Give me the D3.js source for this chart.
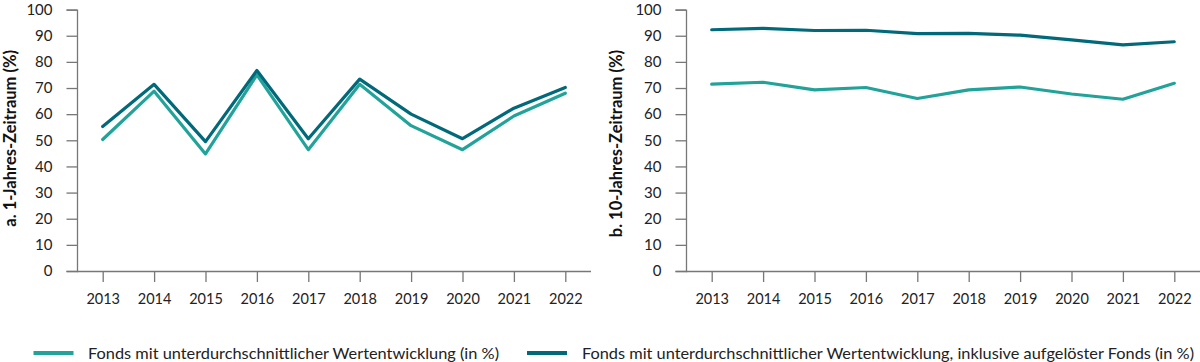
<!DOCTYPE html>
<html>
<head>
<meta charset="utf-8">
<script src="https://cdn.jsdelivr.net/npm/d3@7"></script>
<style>
  html, body { margin: 0; padding: 0; background: #fff; }
  svg { display: block; font-family: Lato, "Open Sans", sans-serif; }
</style>
</head>
<body>
<svg id="chart" width="1200" height="362"></svg>
<script>
const years = ["2013","2014","2015","2016","2017","2018","2019","2020","2021","2022"];
const yTicks = [0,10,20,30,40,50,60,70,80,90,100];

// a. 1-Jahres-Zeitraum
const oneYearBelow   = [50.3, 68.8, 44.8, 75.0, 46.4, 71.4, 55.6, 46.4, 59.3, 68.0];
const oneYearInclDis = [55.3, 71.4, 49.5, 76.7, 50.6, 73.4, 60.0, 50.6, 62.3, 70.2];

// b. 10-Jahres-Zeitraum
const tenYearBelow   = [71.5, 72.2, 69.3, 70.2, 66.0, 69.3, 70.4, 67.7, 65.7, 71.8];
const tenYearInclDis = [92.3, 92.8, 92.0, 92.1, 90.8, 90.9, 90.2, 88.4, 86.5, 87.7];

const seriesNames = [
  "Fonds mit unterdurchschnittlicher Wertentwicklung (in %)",
  "Fonds mit unterdurchschnittlicher Wertentwicklung, inklusive aufgelöster Fonds (in %)"
];
const panelTitles = ["a. 1-Jahres-Zeitraum (%)", "b. 10-Jahres-Zeitraum (%)"];

const colLight = "#22a39a";
const colDark = "#00697a";
const axisCol = "#777";
const textCol = "#222";

const svg = d3.select("#chart");

const panels = [
  { x0: 77,  x1: 591,  title: panelTitles[0], titleX: 16, data: [oneYearBelow, oneYearInclDis] },
  { x0: 686, x1: 1200, title: panelTitles[1], titleX: 622, data: [tenYearBelow, tenYearInclDis] }
];

const y = d3.scaleLinear().domain([0, 100]).range([271, 9.6]);

panels.forEach(p => {
  const g = svg.append("g");
  const x = d3.scalePoint().domain(years).range([p.x0, p.x1]).padding(0.5);

  // y axis
  const ya = g.append("g").attr("transform", `translate(${p.x0},0)`)
    .call(d3.axisLeft(y).tickValues(yTicks).tickSize(10.5).tickPadding(14).tickFormat(d3.format("d")));
  ya.select(".domain").attr("stroke", axisCol).attr("stroke-width", 1.3);
  ya.selectAll(".tick line").attr("stroke", axisCol).attr("stroke-width", 1.3);
  ya.selectAll(".tick text").attr("fill", textCol).style("font-size", "15px").style("font-family", "Lato, sans-serif");

  // x axis
  const xa = g.append("g").attr("transform", `translate(0,${y(0)})`)
    .call(d3.axisBottom(x).tickSize(11).tickPadding(12).tickSizeOuter(0));
  xa.select(".domain").attr("stroke", axisCol).attr("stroke-width", 1.3)
    .attr("d", `M${p.x0},0.5H${p.x1}`);
  xa.selectAll(".tick line").attr("stroke", axisCol).attr("stroke-width", 1.3);
  xa.selectAll(".tick text").attr("fill", textCol).style("font-size", "14.5px").style("font-family", "Lato, sans-serif");

  // title
  g.append("text")
    .attr("transform", `translate(${p.titleX},50) rotate(-90)`)
    .attr("text-anchor", "end")
    .attr("fill", "#111")
    .style("font-size", "16.5px")
    .style("font-weight", "bold")
    .text(p.title);

  // lines
  const line = d3.line().x((d, i) => x(years[i])).y(d => y(d));
  [[p.data[0], colLight], [p.data[1], colDark]].forEach(([vals, c]) => {
    g.append("path").datum(vals)
      .attr("fill", "none")
      .attr("stroke", c)
      .attr("stroke-width", 3.2)
      .attr("stroke-linejoin", "round")
      .attr("stroke-linecap", "round")
      .attr("d", line);
  });
});

// legend
const legend = [
  { x: 33.5, tx: 88, w: 411, name: seriesNames[0], c: colLight },
  { x: 527, tx: 582, w: 612, name: seriesNames[1], c: colDark }
];
legend.forEach(l => {
  svg.append("line").attr("x1", l.x).attr("x2", l.x + 40).attr("y1", 353).attr("y2", 353)
    .attr("stroke", l.c).attr("stroke-width", 4);
  svg.append("text").attr("x", l.tx).attr("y", 358.5)
    .attr("fill", textCol)
    .style("font-size", "15px")
    .attr("textLength", l.w).attr("lengthAdjust", "spacingAndGlyphs")
    .text(l.name);
});
</script>
</body>
</html>
